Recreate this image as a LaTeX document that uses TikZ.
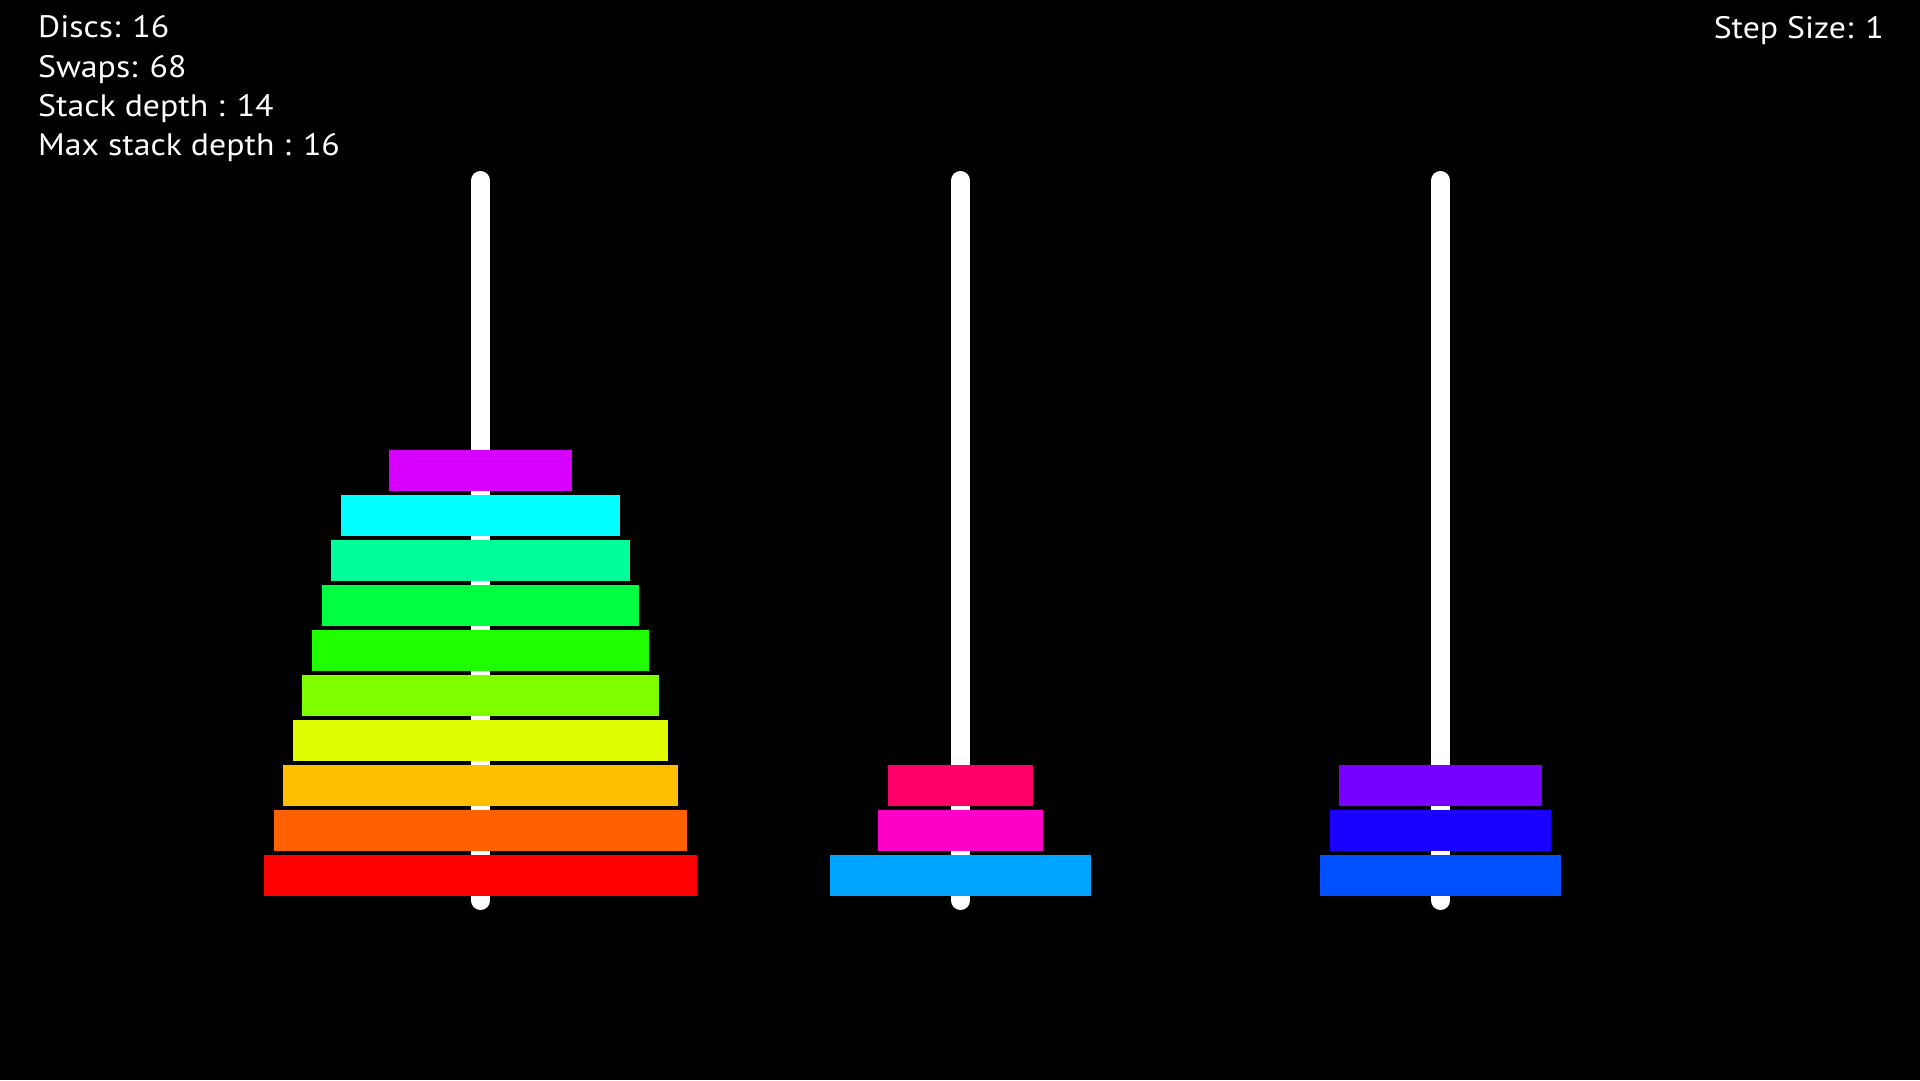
\documentclass[tikz,border=0pt]{standalone}
\usepackage{fontspec}
\setmainfont{PT Sans}[FakeStretch=1.09]
\definecolor{c0}{HTML}{FF0000}
\definecolor{c1}{HTML}{FF6000}
\definecolor{c2}{HTML}{FFBF00}
\definecolor{c3}{HTML}{DFFF00}
\definecolor{c4}{HTML}{80FF00}
\definecolor{c5}{HTML}{20FF00}
\definecolor{c6}{HTML}{00FF40}
\definecolor{c7}{HTML}{00FF9A}
\definecolor{c8}{HTML}{00FFFF}
\definecolor{c9}{HTML}{00A5FF}
\definecolor{c10}{HTML}{0050FF}
\definecolor{c11}{HTML}{1A00FF}
\definecolor{c12}{HTML}{7700FF}
\definecolor{c13}{HTML}{D700FF}
\definecolor{c14}{HTML}{FF00C8}
\definecolor{c15}{HTML}{FF0066}
\tikzset{
  x=1pt, y=-1pt,
  pegline/.style={white, line width=19pt, line cap=round},
  disc/.style={rectangle, inner sep=0pt, outer sep=0pt, minimum height=41pt, draw=none},
  info/.style={white, font=\fontsize{31}{37}\selectfont, inner sep=0pt, anchor=base west},
}
\begin{document}
\begin{tikzpicture}
\useasboundingbox[fill=black] (0,0) rectangle (1920,1080);
% pegs
\foreach \p/\x in {1/480.5, 2/960.5, 3/1440.5}{
  \coordinate (top\p) at (\x,180.5);
  \coordinate (bot\p) at (\x,900.5);
  \draw[pegline] (top\p) -- (bot\p);
}
% discs: colour index/peg x/level
\foreach \k/\x/\j in {0/480.5/0, 1/480.5/1, 2/480.5/2, 3/480.5/3, 4/480.5/4, 5/480.5/5, 6/480.5/6, 7/480.5/7, 8/480.5/8, 13/480.5/9,
                     9/960.5/0, 14/960.5/1, 15/960.5/2,
                     10/1440.5/0, 11/1440.5/1, 12/1440.5/2}{
  \pgfmathsetmacro{\w}{433-19.2*\k}
  \pgfmathsetmacro{\yy}{875.5-45*\j}
  \node[disc, fill=c\k, minimum width=\w pt] (d\k) at (\x,\yy) {};
}
% texts
\node[info] (discs) at (38,37.5) {Discs: 16};
\node[info] (swaps) at (38,77) {Swaps: 68};
\node[info] (depth) at (38,116.5) {Stack depth : 14};
\node[info] (maxdepth) at (38,155.5) {Max stack depth : 16};
\node[info, anchor=base east] (stepsize) at (1884,38) {Step Size: 1};
\end{tikzpicture}
\end{document}
